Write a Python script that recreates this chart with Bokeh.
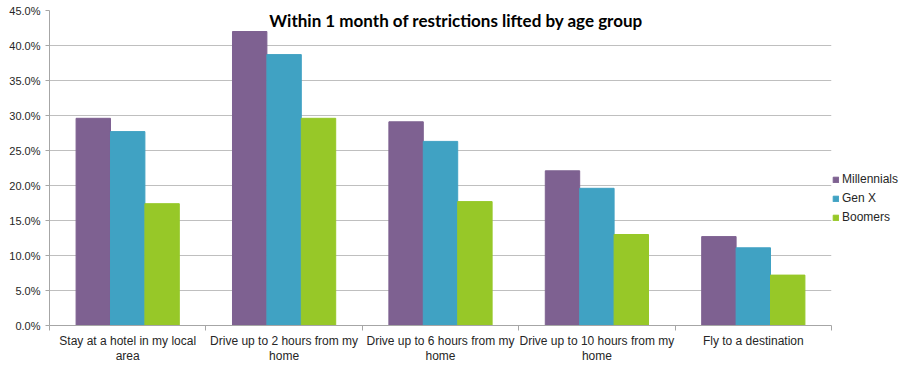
from bokeh.plotting import figure
from bokeh.models import (Range1d, FixedTicker, PrintfTickFormatter, Label, Legend, LegendItem)
from bokeh.embed import file_html
from bokeh.resources import INLINE

categories = ["Stay at a hotel in my local\narea", "Drive up to 2 hours from my\nhome",
              "Drive up to 6 hours from my\nhome", "Drive up to 10 hours from my\nhome",
              "Fly to a destination"]
series_names = ["Millennials", "Gen X", "Boomers"]
millennials = [29.6, 42.0, 29.1, 22.1, 12.7]
gen_x = [27.7, 38.7, 26.3, 19.6, 11.1]
boomers = [17.4, 29.6, 17.7, 13.0, 7.2]
colors = ["#7E6191", "#40A2C3", "#97C828"]
y_ticks = [0, 5, 10, 15, 20, 25, 30, 35, 40, 45]
title_text = "Within 1 month of restrictions lifted by age group"

n = len(categories)
p = figure(frame_width=782, frame_height=315, output_backend="svg", toolbar_location=None,
           x_range=Range1d(0, n), y_range=Range1d(0, 45),
           min_border_left=49, min_border_right=70, min_border_top=10, min_border_bottom=36)
p.outline_line_color = None
p.background_fill_color = "white"
p.border_fill_color = "white"

centers = [i + 0.5 for i in range(n)]
bw = 0.22
renderers = []
for k, (vals, col) in enumerate(zip([millennials, gen_x, boomers], colors)):
    off = (k - 1) * bw
    r = p.vbar(x=[c + off for c in centers], top=vals, width=bw, bottom=0,
               fill_color=col, line_color=col)
    renderers.append(r)

# x axis: labels at category centers, small ticks at category boundaries
xa = p.xaxis[0]
xa.ticker = FixedTicker(ticks=centers, minor_ticks=list(range(n + 1)))
xa.major_label_overrides = {c: lab for c, lab in zip(centers, categories)}
xa.major_tick_line_color = None
xa.major_tick_out = 0
xa.major_tick_in = 0
xa.minor_tick_out = 5
xa.minor_tick_in = 0
xa.minor_tick_line_color = "#A6A6A6"
xa.axis_line_color = "#A6A6A6"
xa.major_label_standoff = 3
xa.major_label_text_font = "Liberation Sans"
xa.major_label_text_font_size = "12px"
xa.major_label_text_color = "#262626"
xa.major_label_text_line_height = 1.1
p.xgrid.grid_line_color = None

ya = p.yaxis[0]
ya.ticker = FixedTicker(ticks=y_ticks, minor_ticks=[])
ya.formatter = PrintfTickFormatter(format="%.1f%%")
ya.axis_line_color = "#A6A6A6"
ya.major_tick_line_color = "#A6A6A6"
ya.major_tick_out = 4
ya.major_tick_in = 0
ya.minor_tick_line_color = None
ya.major_label_standoff = 5
ya.major_label_text_font = "Liberation Sans"
ya.major_label_text_font_size = "11px"
ya.major_label_text_color = "#262626"
p.ygrid.grid_line_color = "#BFBFBF"
p.ygrid.ticker = FixedTicker(ticks=y_ticks)

p.add_layout(Label(x=2.6, y=43.6, text=title_text, text_align="center",
                   text_baseline="middle", text_font="Lato", text_font_style="bold",
                   text_font_size="17px", text_color="#000000"))

legend = Legend(items=[LegendItem(label=nm, renderers=[r]) for nm, r in zip(series_names, renderers)],
                location=(1, 101), orientation="vertical")
legend.glyph_width = 7
legend.glyph_height = 7
legend.label_standoff = 3
legend.spacing = 5
legend.padding = 2
legend.margin = 0
legend.border_line_color = None
legend.background_fill_alpha = 0
legend.label_text_font = "Liberation Sans"
legend.label_text_font_size = "12px"
legend.label_text_color = "#262626"
legend.label_height = 14
p.add_layout(legend, "right")

open("out.html", "w").write(file_html(p, INLINE))
